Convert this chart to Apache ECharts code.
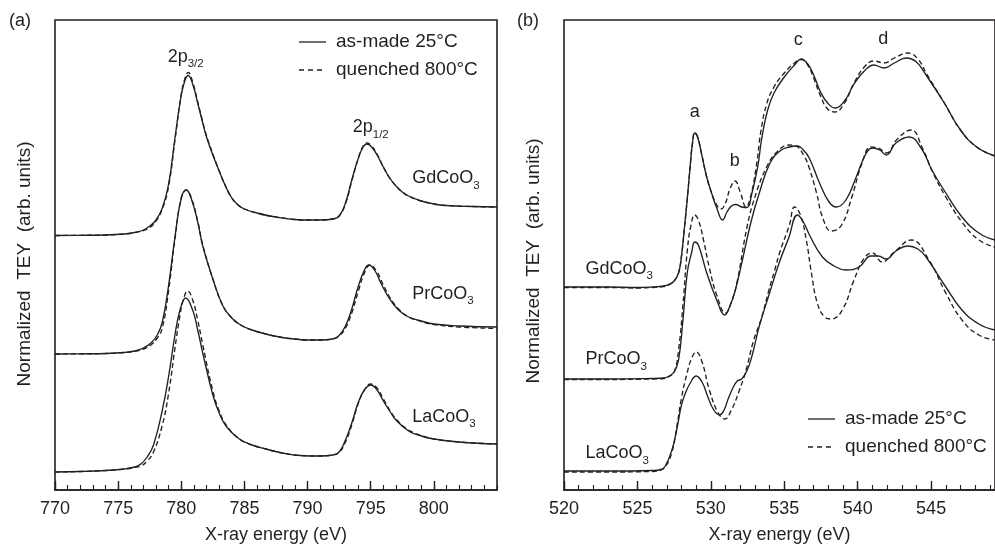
<!DOCTYPE html>
<html>
<head>
<meta charset="utf-8">
<script src="https://cdn.jsdelivr.net/npm/echarts@6/dist/echarts.min.js"></script>
<style>
  html, body { margin: 0; padding: 0; background: #ffffff; }
  #chart { width: 995px; height: 554px; }
</style>
</head>
<body>
<div id="chart"></div>
<script>
// ---- Co L2,3-edge spectra: [energy (eV), normalized TEY, vertically offset] ----
const coL_Gd_asMade = [[770,2.545],[772,2.547],[774,2.55],[775.5,2.56],[776.3,2.575],[777,2.60],[777.5,2.64],[778,2.70],[778.5,2.82],[779,3.06],[779.5,3.52],[780,3.95],[780.3,4.10],[780.55,4.145],[780.9,4.06],[781.3,3.87],[781.6,3.72],[782,3.53],[782.5,3.35],[783,3.19],[783.5,3.04],[784,2.92],[784.5,2.85],[785,2.81],[786,2.77],[787,2.74],[788,2.72],[789,2.705],[790,2.70],[791,2.70],[792,2.71],[792.5,2.74],[793,2.87],[793.5,3.10],[794,3.31],[794.4,3.43],[794.7,3.46],[795,3.44],[795.5,3.35],[796,3.23],[796.5,3.12],[797,3.04],[797.5,2.98],[798,2.94],[799,2.89],[800,2.86],[801,2.845],[803,2.835],[805,2.83]];
const coL_Gd_quenched = [[770,2.545],[772,2.547],[774,2.55],[775.5,2.56],[776.3,2.575],[777,2.595],[777.5,2.625],[778,2.69],[778.5,2.81],[779,3.04],[779.5,3.50],[780,3.96],[780.3,4.12],[780.55,4.175],[780.9,4.08],[781.3,3.88],[781.6,3.73],[782,3.54],[782.5,3.36],[783,3.19],[783.5,3.04],[784,2.92],[784.5,2.85],[785,2.81],[786,2.77],[787,2.74],[788,2.72],[789,2.705],[790,2.70],[791,2.70],[792,2.71],[792.5,2.74],[793,2.86],[793.5,3.09],[794,3.31],[794.4,3.44],[794.7,3.47],[795,3.45],[795.5,3.36],[796,3.23],[796.5,3.12],[797,3.04],[797.5,2.98],[798,2.94],[799,2.89],[800,2.86],[801,2.845],[803,2.835],[805,2.83]];

const coL_Pr_asMade = [[770,1.36],[772,1.362],[774,1.365],[775.5,1.375],[776.3,1.39],[777,1.42],[777.6,1.47],[778.1,1.55],[778.5,1.68],[779,2.05],[779.5,2.53],[780,2.92],[780.4,3.00],[780.8,2.91],[781.3,2.68],[781.7,2.44],[782.5,2.11],[783.3,1.84],[784,1.72],[784.7,1.65],[785.6,1.60],[787,1.55],[788,1.525],[789,1.51],[790,1.50],[791,1.50],[792,1.51],[792.5,1.545],[793,1.64],[793.5,1.81],[794,2.03],[794.5,2.20],[794.85,2.25],[795.3,2.20],[795.8,2.07],[796.5,1.91],[797.2,1.80],[798,1.73],[799,1.69],[800,1.66],[802,1.64],[805,1.63]];
const coL_Pr_quenched = [[770,1.36],[772,1.362],[774,1.365],[775.5,1.375],[776.3,1.385],[777,1.41],[777.6,1.45],[778.1,1.52],[778.5,1.62],[779,2.00],[779.5,2.51],[780,2.92],[780.4,3.00],[780.8,2.92],[781.3,2.69],[781.7,2.45],[782.5,2.11],[783.3,1.84],[784,1.72],[784.7,1.65],[785.6,1.60],[787,1.55],[788,1.525],[789,1.51],[790,1.50],[791,1.50],[792,1.51],[792.5,1.54],[793,1.62],[793.5,1.77],[794,1.98],[794.5,2.17],[794.95,2.25],[795.5,2.18],[796,2.05],[796.5,1.93],[797.2,1.81],[798,1.73],[799,1.685],[800,1.655],[802,1.63],[805,1.615]];

const coL_La_asMade = [[770,0.18],[772,0.185],[774,0.195],[775.5,0.21],[776.3,0.23],[776.8,0.26],[777.3,0.33],[777.8,0.45],[778.5,0.80],[779,1.14],[779.5,1.55],[779.9,1.80],[780.35,1.92],[780.9,1.80],[781.3,1.60],[781.7,1.37],[782.5,0.95],[783,0.77],[783.6,0.63],[784.6,0.51],[785.6,0.45],[786.7,0.41],[788,0.37],[789.4,0.345],[791,0.34],[792,0.35],[792.5,0.38],[793,0.50],[793.5,0.67],[794,0.87],[794.5,1.00],[795,1.05],[795.5,1.00],[796,0.89],[796.5,0.79],[797,0.70],[798,0.59],[799,0.54],[800,0.51],[802,0.48],[805,0.46]];
const coL_La_quenched = [[770,0.18],[772,0.185],[774,0.195],[775.5,0.21],[776.3,0.225],[776.8,0.24],[777.3,0.29],[777.8,0.38],[778.5,0.65],[779,0.97],[779.5,1.42],[779.9,1.75],[780.2,1.92],[780.5,1.99],[780.9,1.90],[781.3,1.70],[781.7,1.45],[782.5,0.99],[783,0.79],[783.6,0.64],[784.6,0.51],[785.6,0.45],[786.7,0.41],[788,0.37],[789.4,0.345],[791,0.34],[792,0.35],[792.5,0.375],[793,0.48],[793.5,0.65],[794,0.86],[794.5,1.00],[795,1.06],[795.5,1.02],[796,0.91],[796.5,0.80],[797,0.71],[798,0.60],[799,0.545],[800,0.51],[802,0.48],[805,0.46]];

// ---- O K-edge spectra ----
const oK_Gd_asMade = [[520,2.03],[523,2.03],[525,2.025],[526,2.03],[526.8,2.04],[527.2,2.06],[527.5,2.09],[527.8,2.17],[528.0,2.34],[528.2,2.62],[528.4,2.92],[528.6,3.25],[528.75,3.47],[528.9,3.57],[529.1,3.53],[529.4,3.34],[529.7,3.14],[530.05,2.97],[530.4,2.82],[530.8,2.70],[531.1,2.78],[531.4,2.84],[531.7,2.855],[532.1,2.83],[532.45,2.825],[532.8,2.97],[533.2,3.24],[533.45,3.50],[533.85,3.79],[534.3,3.97],[535.0,4.13],[535.7,4.25],[536.15,4.31],[536.6,4.26],[537.0,4.15],[537.5,3.97],[537.95,3.87],[538.45,3.82],[539.1,3.89],[539.75,4.06],[540.45,4.19],[541.1,4.25],[541.8,4.22],[542.5,4.27],[543.3,4.32],[544.0,4.28],[544.7,4.14],[545.9,3.87],[547.0,3.60],[548.1,3.43],[549.35,3.34]];
const oK_Gd_quenched = [[520,2.025],[523,2.025],[525,2.02],[526,2.025],[526.8,2.035],[527.2,2.055],[527.5,2.09],[527.8,2.17],[528.0,2.34],[528.2,2.62],[528.4,2.92],[528.6,3.25],[528.75,3.47],[528.9,3.57],[529.1,3.53],[529.4,3.34],[529.7,3.14],[530.05,2.97],[530.4,2.85],[530.7,2.81],[531.0,2.87],[531.3,3.01],[531.65,3.09],[532.0,2.98],[532.4,2.83],[532.7,2.93],[533.1,3.24],[533.4,3.58],[533.8,3.86],[534.3,4.03],[535.0,4.17],[535.7,4.27],[536.15,4.305],[536.6,4.25],[537.0,4.12],[537.5,3.93],[537.95,3.81],[538.45,3.78],[539.1,3.87],[539.75,4.07],[540.45,4.23],[541.1,4.29],[541.8,4.27],[542.5,4.32],[543.4,4.37],[544.1,4.31],[544.7,4.16],[545.9,3.87],[547.0,3.60],[548.1,3.43],[549.35,3.34]];

const oK_Pr_asMade = [[520,1.11],[523,1.11],[526,1.115],[526.8,1.12],[527.1,1.135],[527.5,1.18],[527.8,1.30],[528.1,1.70],[528.4,2.18],[528.7,2.38],[528.9,2.48],[529.15,2.45],[529.7,2.18],[530.4,1.90],[530.95,1.75],[531.3,1.84],[531.65,1.99],[532.15,2.30],[532.75,2.69],[533.3,2.97],[534.0,3.26],[534.7,3.39],[535.35,3.43],[535.9,3.44],[536.3,3.40],[536.7,3.32],[537.4,3.07],[538.05,2.88],[538.55,2.83],[539.2,2.90],[539.9,3.13],[540.55,3.36],[541.0,3.42],[541.5,3.40],[541.95,3.35],[542.6,3.47],[543.5,3.53],[544.4,3.40],[545.05,3.20],[546.0,2.97],[547.1,2.73],[548.25,2.57],[549.35,2.50]];
const oK_Pr_quenched = [[520,1.105],[523,1.105],[526,1.11],[526.8,1.115],[527.1,1.13],[527.5,1.18],[527.8,1.40],[528.1,1.85],[528.4,2.40],[528.65,2.65],[528.9,2.75],[529.15,2.70],[529.5,2.50],[529.9,2.22],[530.4,1.95],[531.0,1.77],[531.4,1.88],[531.8,2.09],[532.45,2.62],[533.0,2.93],[533.8,3.23],[534.5,3.38],[535.35,3.45],[535.8,3.44],[536.35,3.34],[536.7,3.22],[537.2,2.97],[537.6,2.73],[538.2,2.59],[538.9,2.65],[539.6,2.93],[540.3,3.27],[540.9,3.43],[541.4,3.42],[541.95,3.37],[542.7,3.51],[543.65,3.60],[544.4,3.42],[545.1,3.18],[546.0,2.93],[547.1,2.68],[548.25,2.50],[549.35,2.43]];

const oK_La_asMade = [[520,0.19],[523,0.19],[526,0.195],[526.6,0.205],[526.9,0.24],[527.35,0.40],[527.7,0.62],[528.0,0.85],[528.3,0.98],[528.6,1.07],[529.0,1.14],[529.4,1.08],[529.8,0.93],[530.2,0.80],[530.6,0.75],[530.9,0.80],[531.15,0.90],[531.5,1.02],[531.8,1.09],[532.1,1.11],[532.45,1.19],[532.8,1.34],[533.3,1.64],[534.0,1.97],[534.65,2.27],[535.3,2.52],[535.9,2.75],[536.3,2.68],[536.75,2.54],[537.6,2.33],[538.4,2.24],[539.2,2.20],[540.1,2.23],[540.9,2.34],[541.4,2.34],[541.95,2.31],[542.6,2.39],[543.4,2.44],[544.1,2.41],[544.7,2.32],[546.0,2.03],[547.1,1.80],[548.25,1.66],[549.35,1.60]];
const oK_La_quenched = [[520,0.18],[523,0.18],[526,0.185],[526.6,0.20],[526.9,0.23],[527.35,0.38],[527.7,0.65],[528.0,0.92],[528.4,1.18],[528.7,1.32],[529.0,1.38],[529.4,1.28],[529.9,1.00],[530.5,0.77],[530.95,0.71],[531.4,0.80],[531.9,0.98],[532.4,1.20],[532.9,1.49],[533.45,1.72],[533.9,1.97],[534.35,2.20],[534.7,2.38],[535.35,2.65],[535.7,2.83],[536.1,2.75],[536.5,2.50],[536.85,2.17],[537.25,1.87],[537.75,1.73],[538.2,1.71],[538.95,1.80],[539.75,2.10],[540.45,2.32],[541.0,2.37],[541.65,2.28],[542.5,2.38],[543.65,2.50],[544.85,2.30],[546.0,1.97],[547.1,1.70],[548.25,1.55],[549.35,1.50]];

// ---- axis ticks ----
const ticksCoL = [770, 775, 780, 785, 790, 795, 800];
const ticksOK = [520, 525, 530, 535, 540, 545];

// ---- annotations: [text, energy, intensity] ----
const peakNamesCoL = [['{m|2p}{s|3/2}', 780.35, 4.33], ['{m|2p}{s|1/2}', 795.0, 3.625]];
const compoundNamesCoL = [['{m|GdCoO}{s|3}', 798.28, 3.115], ['{m|PrCoO}{s|3}', 798.28, 1.96], ['{m|LaCoO}{s|3}', 798.28, 0.73]];
const peakNamesOK = [['{m|a}', 528.9, 3.78], ['{m|b}', 531.62, 3.29], ['{m|c}', 535.96, 4.495], ['{m|d}', 541.74, 4.51]];
const compoundNamesOK = [['{m|GdCoO}{s|3}', 521.47, 2.21], ['{m|PrCoO}{s|3}', 521.47, 1.305], ['{m|LaCoO}{s|3}', 521.47, 0.365]];

const INK = '#231f20';
const FONT = '"Liberation Sans", Arial, Helvetica, sans-serif';

const RICH = {
  m: { fontSize: 18, lineHeight: 26, fontFamily: FONT, color: INK },
  s: { fontSize: 11.5, lineHeight: 12, verticalAlign: 'bottom', fontFamily: FONT, color: INK }
};

function spectrum(data, xi, yi, dashed) {
  return {
    type: 'line', data: data, xAxisIndex: xi, yAxisIndex: yi,
    showSymbol: false, symbol: 'none', smooth: 0.45,
    silent: true, z: 3,
    lineStyle: { color: INK, width: 1.35, type: dashed ? [5, 3] : 'solid' }
  };
}

function labels(items, xi, yi, leftAligned) {
  return {
    type: 'scatter', xAxisIndex: xi, yAxisIndex: yi, symbolSize: 0, silent: true, z: 6,
    itemStyle: { opacity: 1 },
    data: items.map(d => ({ value: [d[1], d[2]], label: { formatter: d[0] } })),
    label: {
      show: true, position: leftAligned ? 'right' : 'inside', distance: 0,
      rich: RICH, color: INK, opacity: 1
    }
  };
}

function majorAxis(grid, min, max, ticks) {
  return {
    type: 'value', gridIndex: grid, min: min, max: max, interval: 5, position: 'bottom',
    name: 'X-ray energy (eV)', nameLocation: 'middle', nameGap: 36,
    nameTextStyle: { fontSize: 18, fontFamily: FONT, color: INK },
    axisLine: { show: true, lineStyle: { color: INK, width: 1.6 } },
    axisTick: { show: true, inside: true, length: 9, customValues: ticks, lineStyle: { color: INK, width: 1.4 } },
    axisLabel: { show: true, customValues: ticks, margin: 10, fontSize: 18, fontFamily: FONT, color: INK },
    splitLine: { show: false }
  };
}

function minorAxis(grid, min, max) {
  return {
    type: 'value', gridIndex: grid, min: min, max: max, interval: 1, position: 'bottom',
    axisLine: { show: false },
    axisTick: { show: true, inside: true, length: 5, lineStyle: { color: INK, width: 1.1 } },
    axisLabel: { show: false }, splitLine: { show: false }
  };
}

function hiddenY(grid) {
  return {
    type: 'value', gridIndex: grid, min: 0, max: 4.7,
    axisLine: { show: false }, axisTick: { show: false }, axisLabel: { show: false }, splitLine: { show: false }
  };
}

function legendGraphics(x, y) {
  const txt = { fontSize: 19, fontFamily: FONT, fill: INK, verticalAlign: 'middle', textVerticalAlign: 'middle' };
  return [
    { type: 'line', shape: { x1: x, y1: y, x2: x + 27, y2: y }, style: { stroke: INK, lineWidth: 1.3 } },
    { type: 'line', shape: { x1: x, y1: y + 28, x2: x + 27, y2: y + 28 }, style: { stroke: INK, lineWidth: 1.3, lineDash: [5, 4] } },
    { type: 'text', x: x + 37, y: y, style: Object.assign({ text: 'as-made 25°C' }, txt) },
    { type: 'text', x: x + 37, y: y + 28, style: Object.assign({ text: 'quenched 800°C' }, txt) }
  ];
}

function sideTitle(x, y) {
  return {
    type: 'text', x: x, y: y, rotation: Math.PI / 2,
    style: { text: 'Normalized  TEY  (arb. units)', fontSize: 19, fontFamily: FONT, fill: INK,
             align: 'center', textAlign: 'center', verticalAlign: 'middle', textVerticalAlign: 'middle' }
  };
}

function panelTag(x, y, t) {
  return { type: 'text', x: x, y: y,
    style: { text: t, fontSize: 18, fontFamily: FONT, fill: INK, verticalAlign: 'middle', textVerticalAlign: 'middle' } };
}

const chart = echarts.init(document.getElementById('chart'), null, { renderer: 'canvas' });

chart.setOption({
  animation: false,
  backgroundColor: '#ffffff',
  textStyle: { fontFamily: FONT, color: INK },
  grid: [
    { left: 55, top: 20, width: 442, height: 470, show: true, borderColor: INK, borderWidth: 1.6, backgroundColor: 'transparent' },
    { left: 564, top: 20, width: 432, height: 470, show: true, borderColor: INK, borderWidth: 1.6, backgroundColor: 'transparent' }
  ],
  xAxis: [
    majorAxis(0, 770, 805, ticksCoL),
    minorAxis(0, 770, 805),
    majorAxis(1, 520, 549.35, ticksOK),
    minorAxis(1, 520, 549.35)
  ],
  yAxis: [hiddenY(0), hiddenY(1)],
  series: [
    spectrum(coL_Gd_asMade, 0, 0, false),
    spectrum(coL_Gd_quenched, 0, 0, true),
    spectrum(coL_Pr_asMade, 0, 0, false),
    spectrum(coL_Pr_quenched, 0, 0, true),
    spectrum(coL_La_asMade, 0, 0, false),
    spectrum(coL_La_quenched, 0, 0, true),
    spectrum(oK_Gd_asMade, 2, 1, false),
    spectrum(oK_Gd_quenched, 2, 1, true),
    spectrum(oK_Pr_asMade, 2, 1, false),
    spectrum(oK_Pr_quenched, 2, 1, true),
    spectrum(oK_La_asMade, 2, 1, false),
    spectrum(oK_La_quenched, 2, 1, true),
    labels(peakNamesCoL, 0, 0, false),
    labels(compoundNamesCoL, 0, 0, true),
    labels(peakNamesOK, 2, 1, false),
    labels(compoundNamesOK, 2, 1, true)
  ],
  graphic: [
    panelTag(9, 21, '(a)'),
    panelTag(517, 21, '(b)'),
    sideTitle(25, 264),
    sideTitle(534, 261)
  ].concat(legendGraphics(299, 42), legendGraphics(808, 419))
});
</script>
</body>
</html>
